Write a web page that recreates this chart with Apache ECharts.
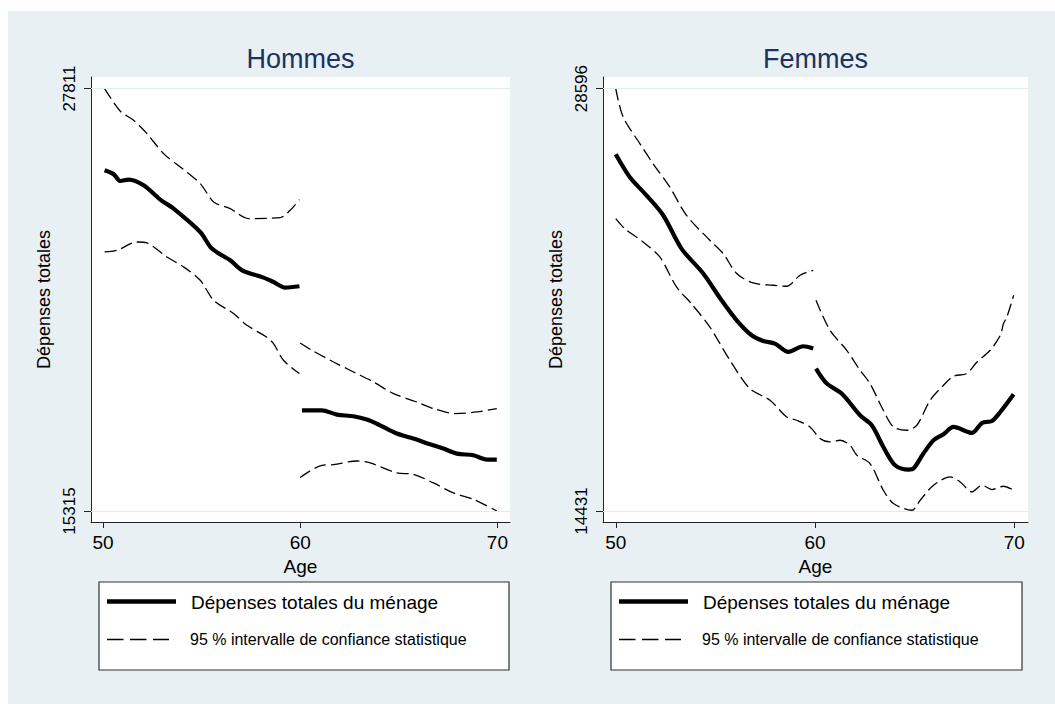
<!DOCTYPE html>
<html>
<head>
<meta charset="utf-8">
<script src="https://cdn.jsdelivr.net/npm/echarts@6/dist/echarts.min.js"></script>
<style>
  html, body { margin: 0; padding: 0; background: #fff; }
  #chart { width: 1055px; height: 704px; }
</style>
</head>
<body>
<div id="chart"></div>
<script>
// titres des panneaux
const panelTitles = ['Hommes', 'Femmes']
const legendLabels = ['Dépenses totales du ménage', '95 % intervalle de confiance statistique']
const ageTicks = [50, 60, 70]
const hommesTicks = [15315, 27811]
const femmesTicks = [14431, 28596]

// Hommes : [âge, valeur], null = coupure à 60 ans
const hommesEstim = [
  [50.08, 25394], [50.54, 25276], [50.88, 25078], [51.30, 25119], [52.06, 24951], [52.90, 24528],
  [53.58, 24261], [54.93, 23569], [55.52, 23078], [56.45, 22732], [57.05, 22436], [58.14, 22220],
  [58.65, 22090], [59.24, 21925], [59.96, 21963], [60.02, null],
  [60.09, 18295], [61.10, 18295], [61.86, 18168], [62.70, 18118], [63.38, 18020], [64.05, 17851],
  [64.90, 17606], [65.74, 17458], [66.59, 17289], [67.26, 17162], [67.94, 17014], [68.78, 16964],
  [69.46, 16837], [69.97, 16837]
]
const hommesHaut = [
  [50.08, 27811], [50.88, 27140], [51.55, 26873], [52.23, 26480], [53.07, 25888], [53.92, 25492],
  [54.93, 25001], [55.61, 24457], [56.45, 24261], [57.38, 23966], [58.99, 23995], [59.49, 24211],
  [59.96, 24528], [59.98, null],
  [60.00, 20286], [60.59, 20070], [61.69, 19724], [62.70, 19428], [63.72, 19132], [64.73, 18789],
  [65.91, 18541], [66.76, 18346], [67.86, 18198], [68.96, 18245], [69.97, 18346]
]
const hommesBas = [
  [50.08, 22978], [50.71, 23028], [51.72, 23273], [52.23, 23244], [53.24, 22830], [54.09, 22534],
  [54.93, 22141], [55.61, 21549], [56.62, 21156], [57.30, 20809], [58.31, 20454], [58.65, 20268],
  [59.15, 19774], [59.96, 19381], [59.98, null],
  [60.00, 16305], [61.10, 16668], [61.69, 16688], [62.87, 16795], [63.55, 16736], [64.90, 16440],
  [65.74, 16402], [66.76, 16145], [67.77, 15849], [68.78, 15663], [69.97, 15315]
]

// Femmes
const femmesEstim = [
  [50.00, 26393], [50.70, 25632], [51.54, 25018], [52.38, 24348], [53.30, 23231], [54.39, 22393],
  [55.31, 21498], [56.07, 20827], [56.82, 20324], [57.40, 20133], [57.99, 20046], [58.66, 19764],
  [59.41, 19955], [59.91, 19878], [59.98, null],
  [60.05, 19207], [60.59, 18705], [61.34, 18369], [62.26, 17642], [62.85, 17306], [63.43, 16579],
  [64.02, 15965], [64.69, 15821], [64.94, 15854], [65.44, 16358], [65.95, 16804], [66.45, 17005],
  [66.95, 17249], [67.87, 17048], [68.38, 17384], [68.88, 17451], [69.30, 17752], [69.97, 18346]
]
const femmesHaut = [
  [50.00, 28596], [50.37, 27644], [51.21, 26752], [51.87, 26081], [52.71, 25297], [53.55, 24348],
  [54.72, 23510], [55.39, 23064], [56.07, 22393], [56.90, 22078], [57.90, 22001], [58.58, 21967],
  [59.25, 22336], [59.91, 22504], [59.98, null],
  [60.05, 21498], [60.75, 20492], [61.59, 19821], [62.26, 19151], [62.76, 18705], [63.43, 17810],
  [63.94, 17249], [64.61, 17139], [65.11, 17306], [65.78, 18145], [66.45, 18648], [66.95, 18950],
  [67.62, 19040], [68.13, 19429], [68.79, 19821], [69.30, 20324], [69.46, 20717], [69.63, 20938],
  [69.97, 21665]
]
const femmesBas = [
  [50.00, 24237], [50.45, 23902], [51.37, 23453], [52.21, 22950], [53.05, 21944], [53.80, 21380],
  [54.72, 20603], [55.73, 19486], [56.73, 18537], [57.74, 18145], [58.58, 17585], [59.08, 17474],
  [59.75, 17249], [60.25, 16861], [60.75, 16747], [61.26, 16804], [61.76, 16636], [62.10, 16301],
  [62.76, 16022], [63.43, 15127], [63.94, 14681], [64.86, 14456], [65.28, 14792], [65.95, 15295],
  [66.78, 15573], [67.29, 15405], [67.87, 15070], [68.38, 15295], [68.88, 15151], [69.46, 15261],
  [69.97, 15127]
]

const chart = echarts.init(document.getElementById('chart'), null, { renderer: 'svg' })

const font = 'Arial, "Liberation Sans", Helvetica, sans-serif'
const axisColor = '#222'

const panels = [
  { left: 91, width: 419, xMin: 49.39, xMax: 70.64, yMin: 14990, yMax: 28154, ticks: hommesTicks,
    estim: hommesEstim, haut: hommesHaut, bas: hommesBas, legendX: 99, legendW: 410 },
  { left: 603, width: 425, xMin: 49.36, xMax: 70.69, yMin: 14062, yMax: 28985, ticks: femmesTicks,
    estim: femmesEstim, haut: femmesHaut, bas: femmesBas, legendX: 611, legendW: 411 }
]

const grids = panels.map(p => ({
  left: p.left, top: 77, width: p.width, height: 445,
  show: true, backgroundColor: '#fff', borderWidth: 0
}))

const xAxes = panels.map((p, i) => ({
  type: 'value', gridIndex: i, min: p.xMin, max: p.xMax,
  axisLine: { show: true, onZero: false, lineStyle: { color: axisColor, width: 1 } },
  axisTick: { show: true, customValues: ageTicks, length: 6, lineStyle: { color: axisColor } },
  axisLabel: { customValues: ageTicks, fontSize: 19, fontFamily: font, color: '#000', margin: 11 },
  splitLine: { show: false },
  name: 'Age', nameLocation: 'middle', nameGap: 28,
  nameTextStyle: { fontSize: 19, fontFamily: font, color: '#000' }
}))

const yAxes = panels.map((p, i) => ({
  type: 'value', gridIndex: i, min: p.yMin, max: p.yMax,
  axisLine: { show: true, onZero: false, lineStyle: { color: axisColor, width: 1 } },
  axisTick: { show: true, customValues: p.ticks, length: 7, lineStyle: { color: axisColor } },
  axisLabel: {
    customValues: p.ticks, rotate: 90, fontSize: 17, fontFamily: font, color: '#000', margin: 13,
    formatter: v => String(v)
  },
  splitLine: { show: false },
  name: 'Dépenses totales', nameLocation: 'middle', nameGap: 38,
  nameTextStyle: { fontSize: 18, fontFamily: font, color: '#000' }
}))

const series = []
panels.forEach((p, i) => {
  series.push({
    name: legendLabels[1], type: 'line', xAxisIndex: i, yAxisIndex: i, data: p.haut,
    symbol: 'none', smooth: 0.3, connectNulls: false, z: 3,
    lineStyle: { color: '#000', width: 1.3, type: [12, 5] },
    markLine: {
      silent: true, symbol: 'none', label: { show: false },
      lineStyle: { color: '#e2ebf0', width: 1, type: 'solid' },
      data: p.ticks.map(v => ({ yAxis: v }))
    }
  })
  series.push({
    name: legendLabels[1], type: 'line', xAxisIndex: i, yAxisIndex: i, data: p.bas,
    symbol: 'none', smooth: 0.3, connectNulls: false, z: 3,
    lineStyle: { color: '#000', width: 1.3, type: [12, 5] }
  })
  series.push({
    name: legendLabels[0], type: 'line', xAxisIndex: i, yAxisIndex: i, data: p.estim,
    symbol: 'none', smooth: 0.3, connectNulls: false, z: 4,
    lineStyle: { color: '#000', width: 4.2 }
  })
})

// légendes encadrées sous chaque panneau
const graphic = [
  { type: 'rect', z: -100, silent: true, shape: { x: 8, y: 11, width: 1047, height: 693 },
    style: { fill: '#e8f0f3' } }
]
panels.forEach(p => {
  const x0 = p.legendX
  graphic.push(
    { type: 'rect', z: 100, shape: { x: x0, y: 582, width: p.legendW, height: 88 },
      style: { fill: '#fff', stroke: '#333', lineWidth: 1.2 } },
    { type: 'line', z: 101, shape: { x1: x0 + 8, y1: 601.5, x2: x0 + 77, y2: 601.5 },
      style: { stroke: '#000', lineWidth: 4.5 } },
    { type: 'text', z: 101, x: x0 + 92, y: 602,
      style: { text: legendLabels[0], fontSize: 19, fontFamily: font, fill: '#000', verticalAlign: 'middle' } },
    { type: 'line', z: 101, shape: { x1: x0 + 8, y1: 639.5, x2: x0 + 70, y2: 639.5 },
      style: { stroke: '#000', lineWidth: 1.4, lineDash: [16.5, 6.5] } },
    { type: 'text', z: 101, x: x0 + 91, y: 639.5,
      style: { text: legendLabels[1], fontSize: 16, fontFamily: font, fill: '#000', verticalAlign: 'middle' } }
  )
})

const option = {
  animation: false,
  backgroundColor: '#fff',
  title: panels.map((p, i) => ({
    text: panelTitles[i], left: p.left + p.width / 2, top: 59, padding: 0,
    textAlign: 'center', textVerticalAlign: 'middle',
    textStyle: { fontSize: 27, fontWeight: 'normal', fontFamily: font, color: '#1c3261' }
  })),
  grid: grids,
  xAxis: xAxes,
  yAxis: yAxes,
  series: series,
  graphic: graphic
}

chart.setOption(option)
</script>
</body>
</html>
